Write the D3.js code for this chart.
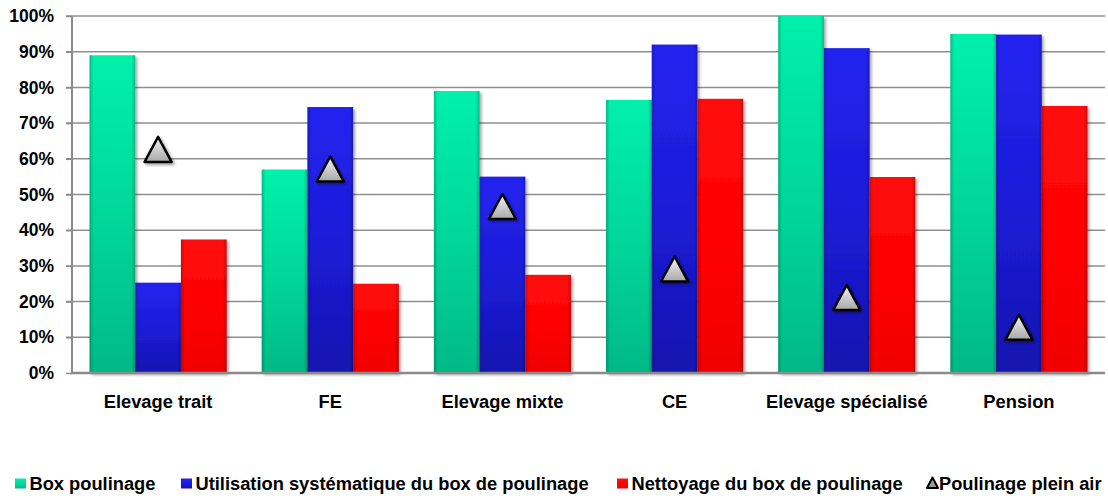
<!DOCTYPE html>
<html lang="fr">
<head>
  <meta charset="UTF-8">
  <title>Poulinage</title>
  <script src="https://d3js.org/d3.v7.min.js"></script>
  <style>
    body, html { margin: 0; padding: 0; background: #fff; }
    svg text { font-family: "Liberation Sans", Arial, sans-serif; font-weight: bold; fill: #000; }
    .grid line { stroke: #8f8f8f; stroke-width: 1.5px; }
    .axis path, .axis line { stroke: #8a8a8a; }
  </style>
</head>
<body>
  <svg id="chart" width="1108" height="498"></svg>

  <script>
    const categories = ["Elevage trait", "FE", "Elevage mixte", "CE", "Elevage spécialisé", "Pension"];
    const seriesNames = ["Box poulinage", "Utilisation systématique du box de poulinage", "Nettoyage du box de poulinage"];
    const boxPoulinage = [0.89, 0.57, 0.79, 0.765, 1.00, 0.95];
    const utilisationBox = [0.253, 0.745, 0.55, 0.92, 0.91, 0.948];
    const nettoyageBox = [0.374, 0.25, 0.275, 0.768, 0.549, 0.748];
    const pleinAir = [0.625, 0.57, 0.465, 0.29, 0.21, 0.127];
    const lineName = "Poulinage plein air";
    const yTicks = [0, 0.1, 0.2, 0.3, 0.4, 0.5, 0.6, 0.7, 0.8, 0.9, 1.0];

    const barValues = [boxPoulinage, utilisationBox, nettoyageBox];
    const colors = [
      { top: "#00f0ac", mid: "#00d89a", bot: "#00b987" },
      { top: "#2424f0", mid: "#1c1cd8", bot: "#1414b0" },
      { top: "#ff1010", mid: "#ff0000", bot: "#f00000" }
    ];

    const svg = d3.select("#chart");
    const plotLeft = 72, plotRight = 1105, plotTop = 16, plotBottom = 373;

    const x0 = d3.scaleBand().domain(categories).range([plotLeft, plotRight]);
    const x1 = d3.scaleBand().domain(seriesNames).range([0, x0.bandwidth()]).paddingOuter(0.384);
    const y = d3.scaleLinear().domain([0, 1]).range([plotBottom, plotTop]);

    const defs = svg.append("defs");
    colors.forEach((c, i) => {
      const g = defs.append("linearGradient").attr("id", "bar" + i)
        .attr("x1", 0).attr("y1", 0).attr("x2", 0).attr("y2", 1);
      g.append("stop").attr("offset", "0%").attr("stop-color", c.top);
      g.append("stop").attr("offset", "50%").attr("stop-color", c.mid);
      g.append("stop").attr("offset", "100%").attr("stop-color", c.bot);
    });
    const edge = defs.append("linearGradient").attr("id", "edge")
      .attr("x1", 0).attr("y1", 0).attr("x2", 1).attr("y2", 0);
    edge.append("stop").attr("offset", "0%").attr("stop-color", "#000").attr("stop-opacity", 0.22);
    edge.append("stop").attr("offset", "8%").attr("stop-color", "#000").attr("stop-opacity", 0);
    edge.append("stop").attr("offset", "92%").attr("stop-color", "#000").attr("stop-opacity", 0);
    edge.append("stop").attr("offset", "100%").attr("stop-color", "#000").attr("stop-opacity", 0.22);
    const tri = defs.append("linearGradient").attr("id", "tri")
      .attr("x1", 0).attr("y1", 0).attr("x2", 0).attr("y2", 1);
    tri.append("stop").attr("offset", "0%").attr("stop-color", "#f4f4f4");
    tri.append("stop").attr("offset", "100%").attr("stop-color", "#a8a8a8");
    const shadow = defs.append("filter").attr("id", "shadow")
      .attr("x", "-20%").attr("y", "-10%").attr("width", "150%").attr("height", "130%");
    shadow.append("feDropShadow").attr("dx", 2).attr("dy", 2).attr("stdDeviation", 1.5)
      .attr("flood-color", "#000").attr("flood-opacity", 0.35);

    // gridlines
    svg.append("g").attr("class", "grid")
      .selectAll("line").data(yTicks.slice(1)).enter().append("line")
      .attr("x1", plotLeft - 6).attr("x2", plotRight)
      .attr("y1", d => y(d)).attr("y2", d => y(d));

    // y axis labels
    const yAxis = svg.append("g").attr("class", "axis")
      .attr("transform", `translate(${plotLeft},0)`)
      .call(d3.axisLeft(y).tickValues(yTicks).tickFormat(d3.format(".0%")).tickSize(6).tickPadding(12));
    yAxis.select(".domain").remove();
    yAxis.selectAll("line").attr("stroke", "#8f8f8f").attr("stroke-width", 1.5);
    yAxis.selectAll("text").style("font-size", "17.5px");

    // bars
    const groups = svg.append("g").selectAll("g").data(categories).enter().append("g")
      .attr("transform", d => `translate(${x0(d)},0)`);
    seriesNames.forEach((s, si) => {
      groups.append("rect")
        .attr("x", x1(s)).attr("width", x1.bandwidth())
        .attr("y", (d, i) => y(barValues[si][i]))
        .attr("height", (d, i) => plotBottom - y(barValues[si][i]))
        .attr("fill", `url(#bar${si})`)
        .attr("filter", "url(#shadow)");
      groups.append("rect")
        .attr("x", x1(s)).attr("width", x1.bandwidth())
        .attr("y", (d, i) => y(barValues[si][i]))
        .attr("height", (d, i) => plotBottom - y(barValues[si][i]))
        .attr("fill", "url(#edge)");
    });

    // axes lines
    svg.append("line").attr("x1", plotLeft).attr("x2", plotLeft).attr("y1", plotTop).attr("y2", plotBottom)
      .attr("stroke", "#8a8a8a").attr("stroke-width", 2);
    svg.append("line").attr("x1", plotLeft - 1).attr("x2", plotRight).attr("y1", plotBottom).attr("y2", plotBottom)
      .attr("stroke", "#8a8a8a").attr("stroke-width", 2.5);

    // x axis labels
    const xAxis = svg.append("g").attr("class", "axis")
      .attr("transform", `translate(0,${plotBottom})`)
      .call(d3.axisBottom(x0).tickSize(0).tickPadding(22));
    xAxis.select(".domain").remove();
    xAxis.selectAll("text").style("font-size", "18.3px");

    // triangle markers
    const triPath = "M0,-13 L13.5,12 L-13.5,12 Z";
    svg.append("g").selectAll("path").data(pleinAir).enter().append("path")
      .attr("d", triPath)
      .attr("transform", (d, i) => `translate(${x0(categories[i]) + x0.bandwidth() / 2},${y(d)})`)
      .attr("fill", "url(#tri)").attr("stroke", "#000").attr("stroke-width", 2.5)
      .attr("stroke-linejoin", "round")
      .attr("filter", "url(#shadow)");

    // legend
    const legendX = [15, 181, 617];
    const legendY = 490;
    const legend = svg.append("g");
    seriesNames.forEach((s, i) => {
      legend.append("rect").attr("x", legendX[i]).attr("y", legendY - 11.5).attr("width", 11).attr("height", 10)
        .attr("fill", `url(#bar${i})`);
      legend.append("text").attr("x", legendX[i] + 14.5).attr("y", legendY)
        .style("font-size", "18.3px").text(s);
    });
    legend.append("path").attr("d", "M0,-5.5 L5.5,5 L-5.5,5 Z")
      .attr("transform", `translate(${932.5},${legendY - 7})`)
      .attr("fill", "#9a9a9a").attr("stroke", "#000").attr("stroke-width", 2)
      .attr("stroke-linejoin", "round");
    legend.append("text").attr("x", 939).attr("y", legendY).style("font-size", "18.3px").text(lineName);
  </script>
</body>
</html>
